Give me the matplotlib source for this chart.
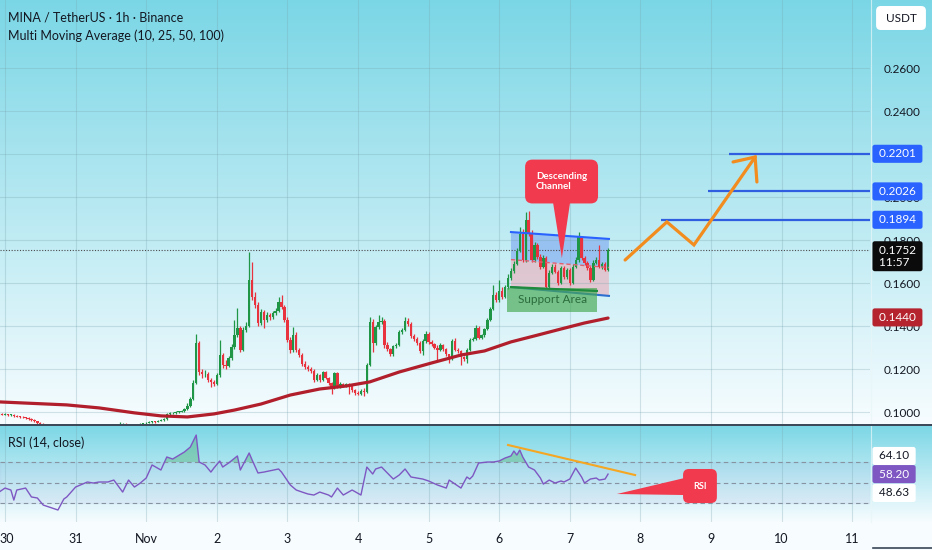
import numpy as np
import pandas as pd
import matplotlib
matplotlib.use("Agg")
import matplotlib.pyplot as plt
from matplotlib.patches import FancyBboxPatch, Polygon, Rectangle
from matplotlib.lines import Line2D
from matplotlib.transforms import ScaledTranslation

plt.rcParams['font.family'] = ['Lato', 'DejaVu Sans']

# ---- data (MINA/USDT 1h) ----
first_open = 0.0990
closes = [
    0.0992, 0.0988, 0.0990, 0.0986, 0.0988, 0.0981, 0.0979, 0.0977, 0.0976, 0.0972, 0.0968, 0.0962, 0.0957,
    0.0950, 0.0946, 0.0940, 0.0935, 0.0928, 0.0922, 0.0918, 0.0915, 0.0920, 0.0925, 0.0922, 0.0928, 0.0932,
    0.0930, 0.0934, 0.0932, 0.0936, 0.0935, 0.0933, 0.0937, 0.0935, 0.0932, 0.0930, 0.0934, 0.0938,
    0.0936, 0.0940, 0.0937, 0.0942, 0.0945, 0.0940, 0.0943, 0.0941, 0.0938, 0.0942, 0.0945, 0.0948,
    0.0950, 0.0952, 0.0956, 0.0955, 0.0960, 0.0962, 0.0966, 0.0990, 0.0995, 0.0997, 0.1000, 0.1002,
    0.1004, 0.1012, 0.1030, 0.1060, 0.1135, 0.1320, 0.1185, 0.1175, 0.1178, 0.1150, 0.1140, 0.1132,
    0.1172, 0.1265, 0.1219, 0.1215, 0.1250, 0.1302, 0.1358, 0.1390, 0.1290, 0.1381, 0.1400, 0.1614,
    0.1535, 0.1498, 0.1414, 0.1465, 0.1430, 0.1450, 0.1440, 0.1460, 0.1470, 0.1512, 0.1490, 0.1430,
    0.1335, 0.1288, 0.1360, 0.1290, 0.1265, 0.1225, 0.1210, 0.1200, 0.1190, 0.1150, 0.1170, 0.1148,
    0.1185, 0.1160, 0.1135, 0.1110, 0.1180, 0.1118, 0.1130, 0.1122, 0.1128, 0.1126, 0.1102, 0.1090,
    0.1085, 0.1100, 0.1092, 0.1219, 0.1420, 0.1320, 0.1395, 0.1420, 0.1425, 0.1310, 0.1293, 0.1270,
    0.1305, 0.1310, 0.1370, 0.1380, 0.1425, 0.1410, 0.1355, 0.1340, 0.1320, 0.1285, 0.1330, 0.1365,
    0.1325, 0.1315, 0.1300, 0.1290, 0.1312, 0.1292, 0.1268, 0.1245, 0.1330, 0.1290, 0.1282, 0.1255,
    0.1245, 0.1290, 0.1335, 0.1340, 0.1390, 0.1345, 0.1358, 0.1385, 0.1430, 0.1480, 0.1545, 0.1520,
    0.1565, 0.1535, 0.1580, 0.1625, 0.1655, 0.1690, 0.1750, 0.1830, 0.1707, 0.1893, 0.1830, 0.1707, 0.1777,
    0.1721, 0.1675, 0.1716, 0.1582, 0.1647, 0.1675, 0.1652, 0.1600, 0.1670, 0.1628, 0.1660, 0.1600, 0.1675,
    0.1707, 0.1814, 0.1716, 0.1693, 0.1670, 0.1614, 0.1693, 0.1707, 0.1675, 0.1690, 0.1662, 0.1752,
]
highs = [
    0.0995, 0.0996, 0.0994, 0.0993, 0.0992, 0.0990, 0.0985, 0.0983, 0.0981, 0.0979, 0.0975, 0.0971, 0.0966,
    0.0960, 0.0954, 0.0949, 0.0943, 0.0938, 0.0931, 0.0926, 0.0921, 0.0923, 0.0928, 0.0929, 0.0931, 0.0935,
    0.0936, 0.0937, 0.0937, 0.0939, 0.0939, 0.0938, 0.0940, 0.0940, 0.0938, 0.0935, 0.0937, 0.0941,
    0.0942, 0.0944, 0.0943, 0.0954, 0.0948, 0.0948, 0.0946, 0.0946, 0.0944, 0.0945, 0.0949, 0.0951,
    0.0954, 0.0956, 0.0959, 0.0960, 0.0963, 0.0966, 0.0970, 0.0996, 0.1000, 0.1002, 0.1005, 0.1006,
    0.1008, 0.1018, 0.1040, 0.1070, 0.1150, 0.1364, 0.1330, 0.1200, 0.1195, 0.1185, 0.1160, 0.1150,
    0.1180, 0.1335, 0.1275, 0.1240, 0.1262, 0.1315, 0.1428, 0.1484, 0.1400, 0.1395, 0.1420, 0.1744,
    0.1698, 0.1560, 0.1510, 0.1480, 0.1475, 0.1465, 0.1462, 0.1470, 0.1485, 0.1535, 0.1545, 0.1500,
    0.1440, 0.1350, 0.1395, 0.1370, 0.1300, 0.1275, 0.1235, 0.1220, 0.1208, 0.1198, 0.1180, 0.1176,
    0.1192, 0.1190, 0.1165, 0.1140, 0.1188, 0.1185, 0.1138, 0.1136, 0.1134, 0.1135, 0.1132, 0.1108,
    0.1100, 0.1108, 0.1110, 0.1228, 0.1440, 0.1432, 0.1405, 0.1451, 0.1440, 0.1432, 0.1325, 0.1300,
    0.1312, 0.1320, 0.1380, 0.1392, 0.1440, 0.1436, 0.1418, 0.1365, 0.1348, 0.1328, 0.1338, 0.1375,
    0.1372, 0.1335, 0.1322, 0.1310, 0.1320, 0.1318, 0.1298, 0.1272, 0.1338, 0.1345, 0.1298, 0.1288,
    0.1262, 0.1298, 0.1342, 0.1350, 0.1405, 0.1398, 0.1365, 0.1392, 0.1438, 0.1490, 0.1590, 0.1560,
    0.1614, 0.1580, 0.1592, 0.1640, 0.1668, 0.1702, 0.1765, 0.1860, 0.1850, 0.1930, 0.1935, 0.1845, 0.1790,
    0.1788, 0.1735, 0.1728, 0.1725, 0.1660, 0.1690, 0.1690, 0.1662, 0.1680, 0.1680, 0.1672, 0.1668, 0.1688,
    0.1720, 0.1835, 0.1820, 0.1725, 0.1702, 0.1680, 0.1705, 0.1720, 0.1775, 0.1700, 0.1698, 0.1765,
]
lows = [
    0.0987, 0.0985, 0.0984, 0.0983, 0.0982, 0.0978, 0.0975, 0.0973, 0.0972, 0.0968, 0.0964, 0.0958, 0.0953,
    0.0946, 0.0942, 0.0936, 0.0930, 0.0924, 0.0918, 0.0913, 0.0910, 0.0912, 0.0917, 0.0918, 0.0920, 0.0925,
    0.0926, 0.0927, 0.0929, 0.0930, 0.0932, 0.0930, 0.0931, 0.0932, 0.0929, 0.0927, 0.0928, 0.0932,
    0.0933, 0.0934, 0.0934, 0.0935, 0.0939, 0.0937, 0.0938, 0.0938, 0.0935, 0.0936, 0.0940, 0.0943,
    0.0945, 0.0947, 0.0950, 0.0951, 0.0952, 0.0957, 0.0959, 0.0963, 0.0986, 0.0991, 0.0993, 0.0996,
    0.0998, 0.1000, 0.1008, 0.1025, 0.1055, 0.1128, 0.1170, 0.1160, 0.1165, 0.1140, 0.1116, 0.1120,
    0.1125, 0.1165, 0.1205, 0.1200, 0.1208, 0.1240, 0.1295, 0.1350, 0.1280, 0.1285, 0.1370, 0.1395,
    0.1520, 0.1485, 0.1400, 0.1405, 0.1393, 0.1420, 0.1428, 0.1432, 0.1452, 0.1465, 0.1480, 0.1420,
    0.1325, 0.1275, 0.1280, 0.1280, 0.1255, 0.1215, 0.1200, 0.1192, 0.1182, 0.1140, 0.1142, 0.1140,
    0.1142, 0.1152, 0.1125, 0.1086, 0.1105, 0.1110, 0.1110, 0.1114, 0.1115, 0.1086, 0.1095, 0.1080,
    0.1078, 0.1080, 0.1075, 0.1088, 0.1212, 0.1280, 0.1312, 0.1385, 0.1408, 0.1300, 0.1285, 0.1262,
    0.1262, 0.1298, 0.1305, 0.1362, 0.1375, 0.1400, 0.1345, 0.1332, 0.1312, 0.1275, 0.1265, 0.1322,
    0.1318, 0.1305, 0.1292, 0.1235, 0.1282, 0.1285, 0.1260, 0.1230, 0.1240, 0.1282, 0.1275, 0.1219,
    0.1238, 0.1228, 0.1285, 0.1328, 0.1335, 0.1338, 0.1340, 0.1350, 0.1380, 0.1425, 0.1475, 0.1510,
    0.1512, 0.1525, 0.1528, 0.1572, 0.1615, 0.1648, 0.1684, 0.1742, 0.1698, 0.1700, 0.1820, 0.1698, 0.1700,
    0.1712, 0.1665, 0.1668, 0.1572, 0.1570, 0.1640, 0.1645, 0.1590, 0.1595, 0.1620, 0.1620, 0.1592, 0.1595,
    0.1668, 0.1700, 0.1708, 0.1685, 0.1662, 0.1605, 0.1608, 0.1688, 0.1668, 0.1665, 0.1655, 0.1655,
]

# MA(100) line, hours after Oct 30 00:00
ma_hours = [-2, 21, 32, 44, 53, 62, 71, 78, 87, 97, 107, 116, 124, 134, 145, 155, 163, 172, 180, 189, 197, 205]
ma_values = [0.1047, 0.1033, 0.1019, 0.0996, 0.0982, 0.0977, 0.0991, 0.1009, 0.1037, 0.1079, 0.1107,
             0.1121, 0.1140, 0.1186, 0.1228, 0.1265, 0.1284, 0.1326, 0.1354, 0.1386, 0.1414, 0.1437]

# RSI(14)
rsi_hours = [-2, 0, 2, 3, 4, 7, 9, 11, 13, 15, 18, 20, 21, 24, 28, 30, 32, 35, 36, 37, 40, 42, 44, 46,
             48, 50, 53, 55, 57, 61, 63, 65, 66, 68, 70, 71, 73, 74, 76, 79, 80, 83, 84, 86, 88, 93,
             94, 97, 99, 101, 103, 105, 107, 110, 111, 113, 115, 118, 121, 123, 125, 126, 128, 132,
             134, 136, 138, 142, 144, 147, 150, 151, 153, 155, 157, 158, 159, 161, 164, 166, 168, 170,
             172, 173, 174, 175, 176, 178, 180, 182, 183, 185, 187, 189, 190, 192, 194, 196, 197, 199,
             201, 202, 204, 205]
rsi_values = [40.7, 44.6, 42.7, 32.9, 42.7, 44.6, 35.9, 34.9, 28.0, 26.1, 23.2, 33.9, 35.9, 45.6, 50.5,
              49.5, 50.5, 50.5, 51.5, 52.4, 40.7, 52.4, 45.6, 49.5, 54.4, 67.1, 62.2, 74.9, 72.9, 79.8,
              84.6, 96.3, 70.0, 67.1, 60.2, 64.1, 71.0, 65.1, 69.0, 75.9, 62.2, 78.8, 72.0, 59.3, 60.2,
              63.2, 60.2, 47.6, 42.7, 40.7, 38.8, 37.8, 40.7, 37.8, 35.9, 44.6, 37.8, 42.7, 37.8, 65.1,
              58.3, 63.2, 65.1, 53.4, 57.3, 63.2, 55.4, 53.4, 51.5, 47.6, 44.6, 52.4, 48.5, 44.6, 55.4,
              53.4, 56.3, 69.0, 70.0, 70.0, 71.0, 73.9, 75.9, 80.7, 76.8, 81.7, 74.9, 65.1, 62.2, 54.4,
              48.5, 52.4, 49.5, 51.5, 50.5, 53.4, 64.1, 55.4, 49.5, 53.4, 54.4, 52.4, 53.4, 58.2]

day_labels = ['30', '31', 'Nov', '2', '3', '4', '5', '6', '7', '8', '9', '10', '11']
price_ticks = [0.10, 0.12, 0.14, 0.16, 0.18, 0.20, 0.22, 0.24, 0.26]
target_levels = [0.2201, 0.2026, 0.1894]
last_price = 0.1752
ma_last = 0.1440
rsi_tags = ['64.10', '58.20', '48.63']

# ---- layout helpers ----
W, H = 932, 550
def px(x, y):
    return x / W, 1 - y / H

start = pd.Timestamp('2023-10-30 00:00')
times = pd.date_range(end='2023-11-07 13:00', periods=len(closes), freq='h')
hrs = np.array((times - start) / pd.Timedelta('1h'))
c = np.array(closes)
o = np.concatenate([[first_open], c[:-1]])
up = c >= o
cols = np.where(up, '#1f9646', '#e8323e')

fig = plt.figure(figsize=(W / 100, H / 100), dpi=100)

# background gradients
bg = fig.add_axes([0, 0, 1, 1], zorder=0)
top_c = np.array([0.48, 0.84, 0.90])
bot_c = np.array([0.97, 0.99, 1.0])
rows = []
for y in range(H):
    if y < 424:
        t = y / 424
    elif y < 522:
        t = (y - 424) / 98
    else:
        t = 1.0
    rows.append(top_c * (1 - t) + bot_c * t)
img = np.array(rows)[:, None, :]
bg.imshow(img, aspect='auto', extent=[0, 1, 0, 1])
bg.axis('off')

ax = fig.add_axes([0, 1 - 424 / H, 870 / W, 424 / H], zorder=2)
rax = fig.add_axes([0, 1 - 522 / H, 870 / W, 97 / H], zorder=2, sharex=ax)
for a in (ax, rax):
    a.set_facecolor('none')
    for s in a.spines.values():
        s.set_visible(False)

x0, x1 = -1.7, 294.05
ax.set_xlim(x0, x1)
ax.set_ylim(0.09442, 0.29163)
rax.set_ylim(11.5, 106.1)

# grid
ax.set_xticks(np.arange(0, 289, 24))
ax.set_yticks(price_ticks)
ax.grid(True, color='#7aa6b0', alpha=0.3, lw=0.8)
rax.grid(True, axis='x', color='#7aa6b0', alpha=0.3, lw=0.8)
ax.tick_params(axis='x', length=0, labelbottom=False)
ax.yaxis.tick_right()
ax.tick_params(axis='y', length=0, pad=10, labelsize=8.5, labelcolor='#131722')
# 0.2200 sits fully under the 0.2201 tag in the reference
ax.set_yticklabels(['' if abs(v - 0.22) < 1e-9 else f'{v:.4f}' for v in price_ticks])
rax.set_yticks([])
rax.set_xticks(np.arange(0, 289, 24))
rax.set_xticklabels(day_labels)
rax.tick_params(axis='x', length=0, pad=8, labelsize=9, labelcolor='#131722')
first_lbl = rax.get_xticklabels()[0]
first_lbl.set_horizontalalignment('left')
first_lbl.set_transform(first_lbl.get_transform() + ScaledTranslation(-4 / 72, 0, fig.dpi_scale_trans))

# channel fills (under candles)
ch_t = [172, 205.3]
ch_top = [0.1837, 0.1805]
ch_mid = [0.1709, 0.1672]
ch_bot = [0.1581, 0.1540]
ax.add_patch(Polygon([(ch_t[0], ch_top[0]), (ch_t[1], ch_top[1]), (ch_t[1], ch_mid[1]), (ch_t[0], ch_mid[0])],
                     fc='#6d98f0', alpha=0.5, ec='none', zorder=1))
ax.add_patch(Polygon([(ch_t[0], ch_mid[0]), (ch_t[1], ch_mid[1]), (ch_t[1], ch_bot[1]), (ch_t[0], ch_bot[0])],
                     fc='#f3a0ad', alpha=0.5, ec='none', zorder=1))

# candles
ax.vlines(hrs, lows, highs, colors=cols, lw=0.9, zorder=3)
body_lo = np.minimum(o, c)
body_h = np.maximum(np.abs(c - o), 0.00025)
ax.bar(hrs, body_h, bottom=body_lo, width=0.8, color=cols, lw=0, zorder=3)

# moving average
ax.plot(ma_hours, ma_values, color='#b01f2b', lw=2.3, zorder=4, solid_capstyle='round')

# channel lines
ax.plot(ch_t, ch_top, color='#2962ff', lw=1.5, zorder=5)
ax.plot(ch_t, ch_mid, color='#e06070', lw=1, ls=(0, (3, 2)), zorder=5)
ax.plot(ch_t, ch_bot, color='#2d6fd0', lw=1.5, zorder=5)

# support area
ax.add_patch(Rectangle((170.7, 0.1465), 30.5, 0.0112, fc='#43a84e', alpha=0.65, ec='none', zorder=5))
ax.plot([172, 201.2], [0.1581, 0.1563], color='#1e8a3c', lw=1.6, zorder=6)
ax.text(186, 0.1521, 'Support Area', color='#2b6b3c', fontsize=8.5, ha='center', va='center', zorder=7)

# last price dotted line
ax.axhline(last_price, color='#4a4a4a', lw=0.8, ls=(0, (1, 1.5)), zorder=2)

# target lines
ax.hlines(target_levels, [246, 239, 223], x1, colors='#2f5fe0', lw=1.6, zorder=5)

# projected path
ax.plot([210.8, 225.0, 234.2, 255.0], [0.1707, 0.1884, 0.1777, 0.2186], color='#f28c1e', lw=2.3,
        solid_capstyle='round', solid_joinstyle='miter', zorder=6)
ax.plot([247.5, 255.0, 255.6], [0.2163, 0.2186, 0.2070], color='#f28c1e', lw=2.3,
        solid_capstyle='round', solid_joinstyle='miter', zorder=6)

# descending channel callout
red = '#f23a4e'
ax.add_patch(FancyBboxPatch((176.8, 0.1970), 24.8, 0.0204, boxstyle='round,pad=0,rounding_size=2.5',
                            mutation_aspect=2.9417 / 2150, fc=red, ec='none', zorder=8))
ax.add_patch(Polygon([(186.3, 0.1975), (192.1, 0.1975), (189.3, 0.1716)], fc=red, ec='none', zorder=8))
ax.text(189.2, 0.2072, 'Descending\nChannel', color='white', fontsize=7, fontweight='bold',
        ha='center', va='center', multialignment='left', linespacing=1.05, zorder=9)

# RSI pane
rax.axhspan(30, 70, color='#7e57c2', alpha=0.06, zorder=1)
for lvl in (70, 50, 30):
    rax.axhline(lvl, color='#8793a0', lw=0.8, ls=(0, (4, 3)), zorder=2)
rh = np.array(rsi_hours)
rv = np.array(rsi_values)
rax.fill_between(rh, 70, rv, where=rv > 70, interpolate=True, color='#3fa55a', alpha=0.35, lw=0, zorder=2)
rax.plot(rh, rv, color='#7e57c2', lw=1.0, zorder=3)
rax.plot([171, 214.2], [86.6, 57.3], color='#f5a623', lw=1.5, zorder=4)
rax.add_patch(FancyBboxPatch((230.5, 30.0), 11.5, 33.2, boxstyle='round,pad=0,rounding_size=2',
                             mutation_aspect=2.9417 / 1.025, fc=red, ec='none', zorder=8))
rax.add_patch(Polygon([(208.0, 38.8), (231.0, 54.4), (231.0, 37.8)], fc=red, ec='none', zorder=8))
rax.text(236.3, 46.6, 'RSI', color='white', fontsize=6.5, fontweight='bold', ha='center', va='center', zorder=9)

# price scale tags
def tag(a, y, text, bg_col, fg_col):
    a.text(1.0069, y, ' ' + text + ' ', transform=a.get_yaxis_transform(), ha='left', va='center',
           fontsize=8.5, color=fg_col, clip_on=False, zorder=10,
           bbox=dict(boxstyle='round,pad=0.3,rounding_size=0.2', fc=bg_col, ec='none'))

for lvl in target_levels:
    tag(ax, lvl, f'{lvl:.4f}', '#2962ff', 'white')
tag(ax, ma_last, f'{ma_last:.4f}', '#b5232e', 'white')
ax.annotate(f' {last_price:.4f} \n 11:57 ', xy=(1.0069, last_price), xycoords=ax.get_yaxis_transform(),
            xytext=(0, 4), textcoords='offset points', ha='left', va='top', fontsize=8.5, color='white',
            linespacing=1.1, annotation_clip=False, zorder=10,
            bbox=dict(boxstyle='round,pad=0.3,rounding_size=0.2', fc='#0b0b0b', ec='none'))

tag(rax, 75.9, rsi_tags[0], 'white', '#131722')
tag(rax, 58.2, rsi_tags[1], '#7e57c2', 'white')
tag(rax, 39.8, rsi_tags[2], 'white', '#131722')

# legend / header texts
fig.text(*px(8, 17), 'MINA / TetherUS · 1h · Binance', fontsize=9, color='#131722', va='center')
fig.text(*px(8, 36), 'Multi Moving Average (10, 25, 50, 100)', fontsize=9, color='#131722', va='center')
fig.text(*px(8, 443), 'RSI (14, close)', fontsize=9, color='#131722', va='center', zorder=5)
fig.text(*px(901, 18), ' USDT ', fontsize=8.5, color='#131722', ha='center', va='center',
         bbox=dict(boxstyle='round,pad=0.55,rounding_size=0.4', fc='white', ec='none'))

# pane separators
fig.add_artist(Line2D([0, 1], [1 - 424.5 / H] * 2, color='#3a4656', lw=1.4, zorder=20))
fig.add_artist(Line2D([871 / W] * 2, [1 - 522 / H, 1], color='#e8f6f8', lw=0.8, alpha=0.7, zorder=1))
fig.add_artist(Line2D([873 / W, 1], [1 - 548 / H] * 2, color='#3a4656', lw=1.2, zorder=20))

fig.savefig('out.png', dpi=100)
